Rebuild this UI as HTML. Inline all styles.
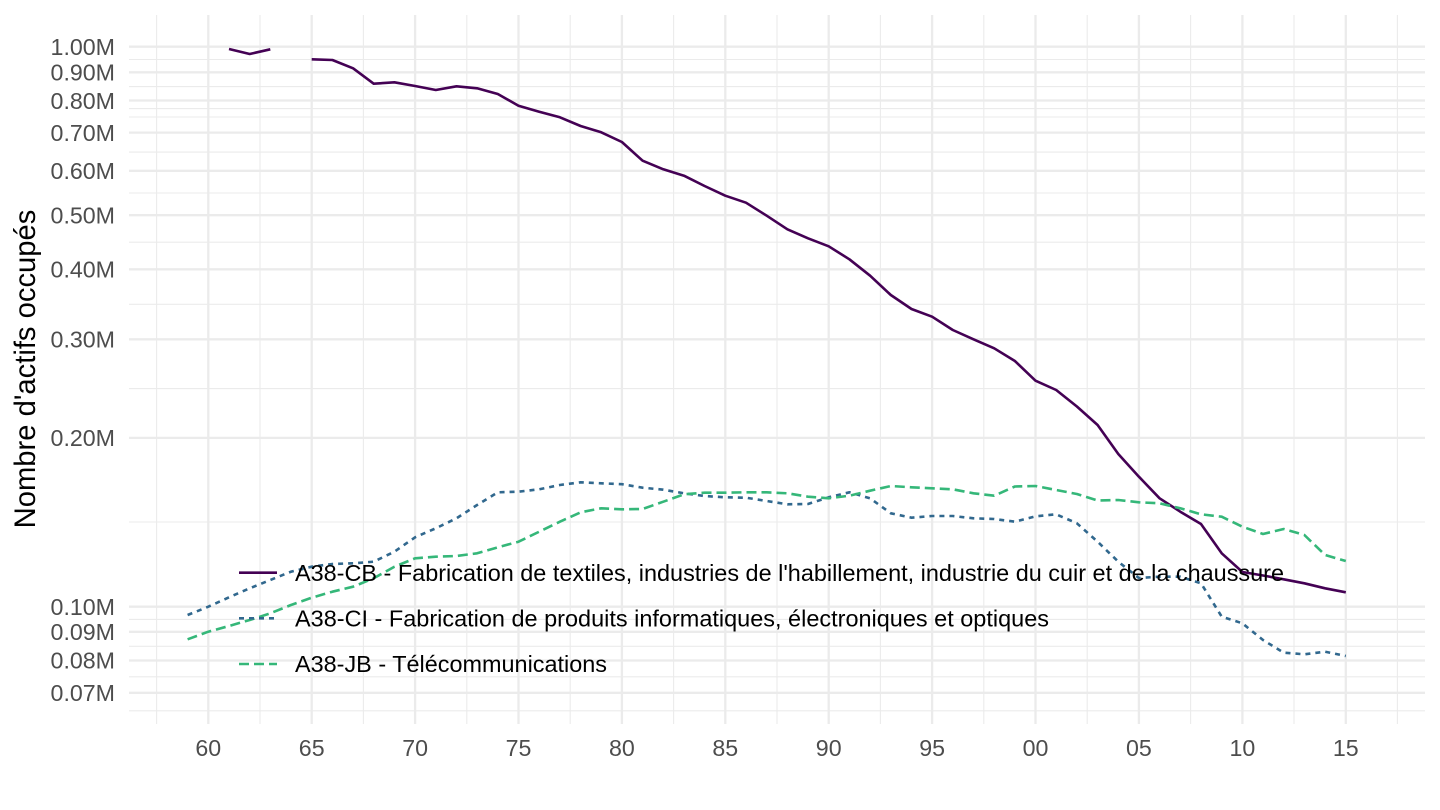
<!DOCTYPE html>
<html>
<head>
<meta charset="utf-8">
<style>
  html, body { margin: 0; padding: 0; background: #ffffff; }
  svg { display: block; }
  text { font-family: "Liberation Sans", Arial, sans-serif; }
</style>
</head>
<body>
<svg width="1440" height="810" viewBox="0 0 1440 810" xmlns="http://www.w3.org/2000/svg">
  <rect x="0" y="0" width="1440" height="810" fill="#ffffff"/>

  <!-- minor horizontal gridlines -->
  <g stroke="#EBEBEB" stroke-width="1.1" fill="none">
    <line x1="129" x2="1425" y1="59.5" y2="59.5"/>
    <line x1="129" x2="1425" y1="86.6" y2="86.6"/>
    <line x1="129" x2="1425" y1="108.6" y2="108.6"/>
    <line x1="129" x2="1425" y1="117" y2="117"/>
    <line x1="129" x2="1425" y1="152.1" y2="152.1"/>
    <line x1="129" x2="1425" y1="193" y2="193"/>
    <line x1="129" x2="1425" y1="242.2" y2="242.2"/>
    <line x1="129" x2="1425" y1="304.3" y2="304.3"/>
    <line x1="129" x2="1425" y1="388.6" y2="388.6"/>
    <line x1="129" x2="1425" y1="522" y2="522"/>
    <line x1="129" x2="1425" y1="619.4" y2="619.4"/>
    <line x1="129" x2="1425" y1="646.3" y2="646.3"/>
    <line x1="129" x2="1425" y1="676.8" y2="676.8"/>
    <line x1="129" x2="1425" y1="710.8" y2="710.8"/>
  </g>
  <!-- minor vertical gridlines -->
  <g stroke="#EBEBEB" stroke-width="1.1" fill="none">
    <line x1="156.6" x2="156.6" y1="15" y2="724"/>
    <line x1="260" x2="260" y1="15" y2="724"/>
    <line x1="363.4" x2="363.4" y1="15" y2="724"/>
    <line x1="466.8" x2="466.8" y1="15" y2="724"/>
    <line x1="570.2" x2="570.2" y1="15" y2="724"/>
    <line x1="673.6" x2="673.6" y1="15" y2="724"/>
    <line x1="777" x2="777" y1="15" y2="724"/>
    <line x1="880.4" x2="880.4" y1="15" y2="724"/>
    <line x1="983.8" x2="983.8" y1="15" y2="724"/>
    <line x1="1087.2" x2="1087.2" y1="15" y2="724"/>
    <line x1="1190.6" x2="1190.6" y1="15" y2="724"/>
    <line x1="1294" x2="1294" y1="15" y2="724"/>
    <line x1="1397.4" x2="1397.4" y1="15" y2="724"/>
  </g>
  <!-- major horizontal gridlines -->
  <g stroke="#EBEBEB" stroke-width="2.3" fill="none">
    <line x1="129" x2="1425" y1="46.7" y2="46.7"/>
    <line x1="129" x2="1425" y1="72.3" y2="72.3"/>
    <line x1="129" x2="1425" y1="100.5" y2="100.5"/>
    <line x1="129" x2="1425" y1="132.6" y2="132.6"/>
    <line x1="129" x2="1425" y1="170.8" y2="170.8"/>
    <line x1="129" x2="1425" y1="215.2" y2="215.2"/>
    <line x1="129" x2="1425" y1="269.3" y2="269.3"/>
    <line x1="129" x2="1425" y1="339.3" y2="339.3"/>
    <line x1="129" x2="1425" y1="437.9" y2="437.9"/>
    <line x1="129" x2="1425" y1="606.7" y2="606.7"/>
    <line x1="129" x2="1425" y1="631.8" y2="631.8"/>
    <line x1="129" x2="1425" y1="660.5" y2="660.5"/>
    <line x1="129" x2="1425" y1="692.8" y2="692.8"/>
  </g>
  <!-- major vertical gridlines -->
  <g stroke="#EBEBEB" stroke-width="2.3" fill="none">
    <line x1="208.3" x2="208.3" y1="15" y2="724"/>
    <line x1="311.7" x2="311.7" y1="15" y2="724"/>
    <line x1="415.1" x2="415.1" y1="15" y2="724"/>
    <line x1="518.5" x2="518.5" y1="15" y2="724"/>
    <line x1="621.9" x2="621.9" y1="15" y2="724"/>
    <line x1="725.3" x2="725.3" y1="15" y2="724"/>
    <line x1="828.7" x2="828.7" y1="15" y2="724"/>
    <line x1="932.1" x2="932.1" y1="15" y2="724"/>
    <line x1="1035.5" x2="1035.5" y1="15" y2="724"/>
    <line x1="1138.9" x2="1138.9" y1="15" y2="724"/>
    <line x1="1242.4" x2="1242.4" y1="15" y2="724"/>
    <line x1="1345.8" x2="1345.8" y1="15" y2="724"/>
  </g>

  <!-- Series: A38-CB (solid purple) -->
  <g fill="none" stroke="#440154" stroke-width="2.6" stroke-linejoin="round">
    <polyline points="229.0,49 249.7,54 270.3,49.3"/>
    <polyline points="311.7,59.3 332.4,60 353.1,68.3 373.7,83.7 394.4,82.3 415.1,86 435.8,90 456.5,86.3 477.1,88.3 497.8,94 518.5,105.7 539.2,111.7 559.9,117.3 580.6,126 601.2,132.3 621.9,142 642.6,160.7 663.3,169.3 684.0,175.7 704.6,186 725.3,195.7 746.0,202.7 766.7,215.7 787.4,229.3 808.0,238.3 828.7,246.3 849.4,259.3 870.1,275.7 890.8,295 911.5,309 932.1,316.7 952.8,330 973.5,339.3 994.2,348.3 1014.9,361 1035.5,380.7 1056.2,390 1076.9,406.5 1097.6,425 1118.3,454 1138.9,476.7 1159.6,498.3 1180.3,511.7 1201.0,524 1221.7,553.3 1242.4,572 1263.0,575.5 1283.7,579.3 1304.4,583.3 1325.1,588.3 1345.8,592.3"/>
  </g>

  <!-- Series: A38-CI (dotted blue, "22") -->
  <polyline fill="none" stroke="#31688E" stroke-width="2.6" stroke-dasharray="5 5" stroke-linejoin="round"
    points="187.6,615 208.3,606.7 229.0,597.3 249.7,588.3 270.3,580 291.0,571.7 311.7,566.7 332.4,564 353.1,563.3 373.7,561.7 394.4,551.7 415.1,537.3 435.8,528.3 456.5,518.3 477.1,505 497.8,492.3 518.5,491.7 539.2,489.3 559.9,485 580.6,482.3 601.2,483.3 621.9,484.2 642.6,487.7 663.3,489.7 684.0,493.3 704.6,496 725.3,497.3 746.0,497.7 766.7,501 787.4,504.3 808.0,504 828.7,497.3 849.4,492.3 870.1,498.3 890.8,513.3 911.5,517.7 932.1,516 952.8,516 973.5,518.3 994.2,519 1014.9,521.7 1035.5,516.3 1056.2,514.3 1076.9,523.3 1097.6,541.7 1118.3,561.7 1138.9,578 1159.6,576.7 1180.3,576.7 1201.0,583.3 1221.7,616.7 1242.4,623.3 1263.0,640 1283.7,652.7 1304.4,654.3 1325.1,651.7 1345.8,656"/>

  <!-- Series: A38-JB (dashed green, "42") -->
  <polyline fill="none" stroke="#35B779" stroke-width="2.6" stroke-dasharray="10 5" stroke-linejoin="round"
    points="187.6,639.3 208.3,631.7 229.0,626 249.7,620 270.3,613.3 291.0,605 311.7,597.7 332.4,591.7 353.1,586.7 373.7,578.3 394.4,566.7 415.1,558.3 435.8,556.7 456.5,556 477.1,553.3 497.8,547.3 518.5,541.7 539.2,531.7 559.9,521.7 580.6,512.3 601.2,508.3 621.9,509.3 642.6,509 663.3,501.7 684.0,494.3 704.6,492.7 725.3,492.7 746.0,492.3 766.7,492.3 787.4,493.3 808.0,496.7 828.7,498.3 849.4,495.7 870.1,490.7 890.8,486 911.5,487.3 932.1,488.3 952.8,489.3 973.5,493.3 994.2,495.7 1014.9,486.5 1035.5,486 1056.2,490 1076.9,494 1097.6,500.5 1118.3,500 1138.9,502.3 1159.6,503.3 1180.3,508.3 1201.0,514.3 1221.7,516.7 1242.4,526.7 1263.0,534 1283.7,529 1304.4,535 1325.1,555 1345.8,561"/>

  <!-- Y tick labels -->
  <g fill="#4D4D4D" font-size="23.2" text-anchor="end">
    <text x="115" y="55">1.00M</text>
    <text x="115" y="80.5">0.90M</text>
    <text x="115" y="109">0.80M</text>
    <text x="115" y="141">0.70M</text>
    <text x="115" y="179">0.60M</text>
    <text x="115" y="223.5">0.50M</text>
    <text x="115" y="277.5">0.40M</text>
    <text x="115" y="347.5">0.30M</text>
    <text x="115" y="446">0.20M</text>
    <text x="115" y="615">0.10M</text>
    <text x="115" y="640">0.09M</text>
    <text x="115" y="668.5">0.08M</text>
    <text x="115" y="701">0.07M</text>
  </g>

  <!-- X tick labels -->
  <g fill="#4D4D4D" font-size="23.2" text-anchor="middle">
    <text x="208.3" y="756">60</text>
    <text x="311.7" y="756">65</text>
    <text x="415.1" y="756">70</text>
    <text x="518.5" y="756">75</text>
    <text x="621.9" y="756">80</text>
    <text x="725.3" y="756">85</text>
    <text x="828.7" y="756">90</text>
    <text x="932.1" y="756">95</text>
    <text x="1035.5" y="756">00</text>
    <text x="1138.9" y="756">05</text>
    <text x="1242.4" y="756">10</text>
    <text x="1345.8" y="756">15</text>
  </g>

  <!-- Y axis title -->
  <text x="0" y="0" font-size="29.2" fill="#000000" text-anchor="middle" transform="translate(35,369) rotate(-90)">Nombre d'actifs occupés</text>

  <!-- Legend -->
  <g stroke-width="2.6" fill="none">
    <line x1="239" x2="277" y1="572.7" y2="572.7" stroke="#440154"/>
    <line x1="239" x2="277" y1="618.3" y2="618.3" stroke="#31688E" stroke-dasharray="5 5"/>
    <line x1="239" x2="277" y1="664" y2="664" stroke="#35B779" stroke-dasharray="10 5"/>
  </g>
  <g fill="#000000" font-size="23.5">
    <text x="295" y="581" textLength="989" lengthAdjust="spacingAndGlyphs">A38-CB - Fabrication de textiles, industries de l'habillement, industrie du cuir et de la chaussure</text>
    <text x="295" y="626.5" textLength="754" lengthAdjust="spacingAndGlyphs">A38-CI - Fabrication de produits informatiques, électroniques et optiques</text>
    <text x="295" y="672" textLength="312" lengthAdjust="spacingAndGlyphs">A38-JB - Télécommunications</text>
  </g>
</svg>
</body>
</html>
